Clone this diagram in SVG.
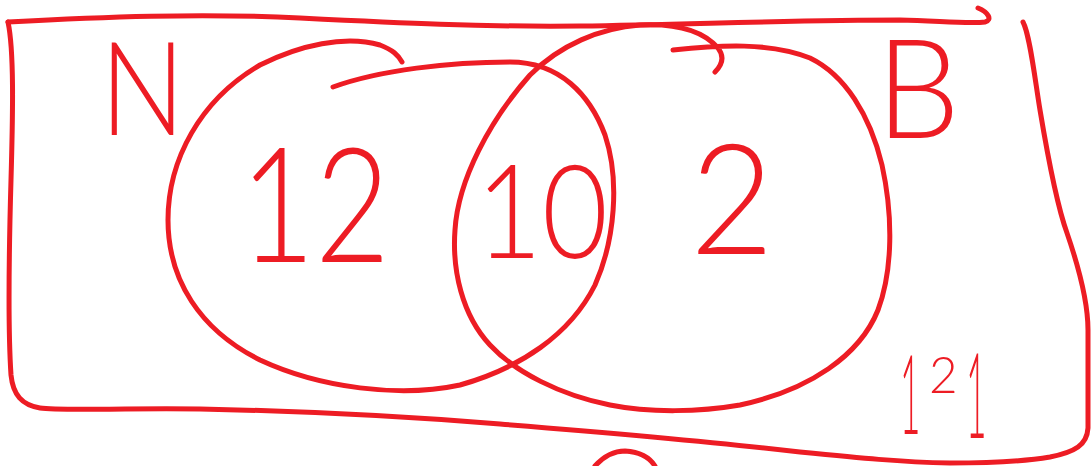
<svg xmlns="http://www.w3.org/2000/svg" width="1091" height="466" viewBox="0 0 1091 466">
<style>
.ink{fill:none;stroke:#ED1C24;stroke-width:5;stroke-linecap:round;stroke-linejoin:round}
.lbl{fill:#ED1C24;font-family:Lato,"Liberation Sans",sans-serif;font-weight:300}
</style>
<rect width="1091" height="466" fill="#ffffff"/>
<g id="universe">
<path class="ink" d="M8,22 C100,17 200,13 300,18 C400,23 480,27 580,26 C700,24 800,20 900,20 C940,21 970,24 985,22 C993,20 988,12 978,8"/>
<path class="ink" d="M1023,22 C1030,35 1035,80 1040,110 C1045,140 1055,200 1067,233 C1078,265 1088,300 1088,330 L1088,428 C1087,445 1075,452 1050,457 C1020,462 990,463 950,463 C900,462 860,458 800,452 C700,440 600,432 500,424 C400,416 300,411 200,409 C120,408 60,411 40,408 C22,405 13,395 11,375 C8,330 9,250 11,180 C13,110 14,50 8,22"/>
<path class="ink" d="M595,466 C605,455 615,451 625,451 C640,452 650,458 655,466"/>
<g id="label-total">
<text class="lbl" transform="translate(900,434) scale(0.32,1)" font-size="110">1</text>
<text class="lbl" transform="translate(929,393) scale(0.95,1)" font-size="52">2</text>
<text class="lbl" transform="translate(966,438) scale(0.3,1)" font-size="118">1</text>
</g>
</g>
<g id="setA">
<path class="ink" d="M333,87 C380,70 450,62 510,62 C560,62 590,95 605,135 C620,180 615,240 595,285 C570,335 520,368 460,385 C400,398 320,388 260,360 C200,330 168,280 168,220 C168,160 200,100 260,65 C300,45 345,35 380,45 C393,50 398,55 402,62"/>
<text id="label-N" class="lbl" x="100" y="135" font-size="130" textLength="85" lengthAdjust="spacingAndGlyphs">N</text>
<text id="label-A-only" class="lbl" x="240" y="262" font-size="160" textLength="150" lengthAdjust="spacingAndGlyphs">12</text>
</g>
<g id="setB">
<path class="ink" d="M673,50 C720,45 770,42 810,58 C845,75 870,115 882,165 C893,215 893,270 878,310 C860,355 810,390 740,405 C700,412 650,413 610,405 C560,395 515,372 490,345 C462,315 452,270 455,230 C458,180 490,120 530,75 C560,45 600,28 640,25 C680,23 705,33 718,48 C725,57 722,65 715,72"/>
<text id="label-B" class="lbl" x="876" y="138" font-size="139" textLength="84" lengthAdjust="spacingAndGlyphs">B</text>
<text id="label-B-only" class="lbl" x="690" y="254" font-size="155" textLength="84" lengthAdjust="spacingAndGlyphs">2</text>
</g>
<g id="intersection">
<text id="label-AB" class="lbl" x="476" y="258" font-size="130" textLength="132" lengthAdjust="spacingAndGlyphs">10</text>
</g>
<g id="connectors"/>
</svg>
